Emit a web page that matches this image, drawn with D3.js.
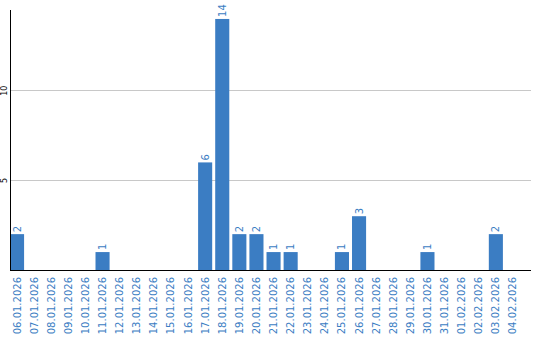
<!DOCTYPE html>
<html>
<head>
<meta charset="utf-8">
<script src="https://cdn.jsdelivr.net/npm/d3@7"></script>
<style>
  body { margin: 0; background: #fff; }
  svg { display: block; font-family: "DejaVu Sans", sans-serif; }
</style>
</head>
<body>
<div id="chart"></div>
<script>
// dates and counts
const dates = ["06.01.2026", "07.01.2026", "08.01.2026", "09.01.2026", "10.01.2026",
  "11.01.2026", "12.01.2026", "13.01.2026", "14.01.2026", "15.01.2026",
  "16.01.2026", "17.01.2026", "18.01.2026", "19.01.2026", "20.01.2026",
  "21.01.2026", "22.01.2026", "23.01.2026", "24.01.2026", "25.01.2026",
  "26.01.2026", "27.01.2026", "28.01.2026", "29.01.2026", "30.01.2026",
  "31.01.2026", "01.02.2026", "02.02.2026", "03.02.2026", "04.02.2026"];
const counts = [2, 0, 0, 0, 0, 1, 0, 0, 0, 0, 0, 6, 14, 2, 2, 1, 1, 0, 0, 1, 3, 0, 0, 0, 1, 0, 0, 0, 2, 0];
const yTicks = [5, 10];

const data = dates.map((d, i) => ({date: d, value: counts[i]}));

const width = 540;
const height = 340;
const marginLeft = 10;
const marginTop = 10;
const marginBottom = 70;
const axisEnd = 531;
const blue = "#3b7dc3";

const x = d3.scaleBand()
    .domain(dates)
    .range([marginLeft, marginLeft + dates.length * 17])
    .paddingInner(3 / 17)
    .paddingOuter(0)
    .align(0);

const y = d3.scaleLinear()
    .domain([0, 14.5])
    .range([height - marginBottom, marginTop]);

const svg = d3.select("#chart").append("svg")
    .attr("width", width)
    .attr("height", height);

// gridlines
svg.append("g")
    .selectAll("line")
    .data(yTicks)
    .join("line")
      .attr("x1", marginLeft)
      .attr("x2", axisEnd)
      .attr("y1", d => Math.floor(y(d)) + 0.5)
      .attr("y2", d => Math.floor(y(d)) + 0.5)
      .attr("stroke", "#c8c8c8");

// y tick labels, rotated
svg.append("g")
    .selectAll("text")
    .data(yTicks)
    .join("text")
      .attr("transform", d => `translate(7,${y(d)}) rotate(-90)`)
      .attr("text-anchor", "middle")
      .attr("font-size", 8)
      .attr("fill", "#000")
      .text(d => d);

// bars
svg.append("g")
    .attr("fill", blue)
    .selectAll("rect")
    .data(data.filter(d => d.value > 0))
    .join("rect")
      .attr("x", d => x(d.date))
      .attr("y", d => y(d.value))
      .attr("width", x.bandwidth())
      .attr("height", d => y(0) - y(d.value));

// value labels
svg.append("g")
    .selectAll("text")
    .data(data.filter(d => d.value > 0))
    .join("text")
      .attr("transform", d => `translate(${x(d.date) + x.bandwidth() / 2 + 3.5},${y(d.value) - 2}) rotate(-90)`)
      .attr("font-size", 10)
      .attr("fill", blue)
      .text(d => d.value);

// axes lines
svg.append("line")
    .attr("x1", marginLeft + 0.5).attr("x2", marginLeft + 0.5)
    .attr("y1", marginTop).attr("y2", y(0) + 1)
    .attr("stroke", "#000");

svg.append("line")
    .attr("x1", marginLeft).attr("x2", axisEnd)
    .attr("y1", y(0) + 0.5).attr("y2", y(0) + 0.5)
    .attr("stroke", "#000");

// x labels
svg.append("g")
    .selectAll("text")
    .data(dates)
    .join("text")
      .attr("transform", d => `translate(${x(d) + x.bandwidth() / 2 + 3.5},${y(0) + 7}) rotate(-90)`)
      .attr("text-anchor", "end")
      .attr("font-size", 10)
      .attr("fill", blue)
      .text(d => d);
</script>
</body>
</html>
